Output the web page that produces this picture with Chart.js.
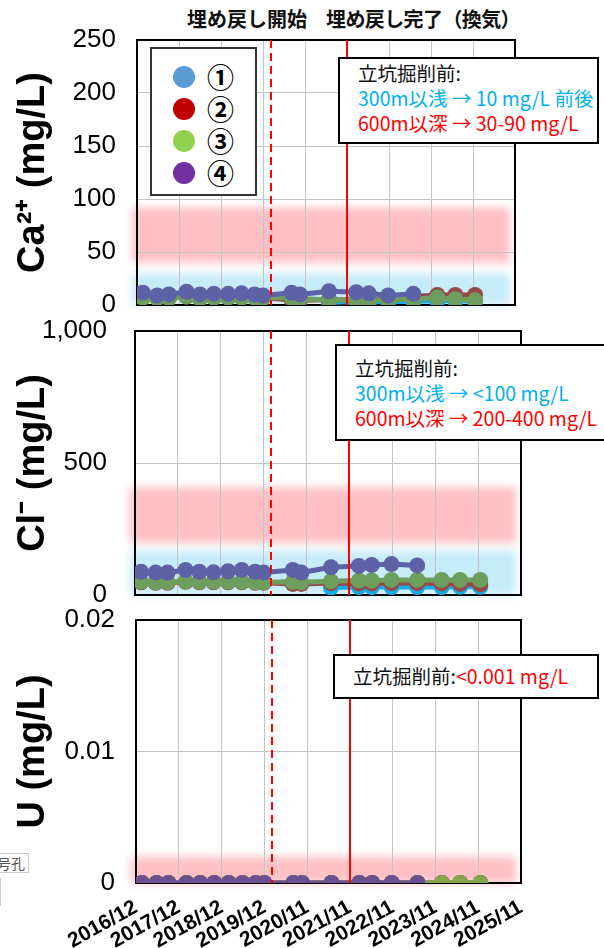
<!DOCTYPE html>
<html lang="ja">
<head>
<meta charset="UTF-8">
<title>埋め戻し前後の水質変化</title>
<style>
  html, body { margin: 0; padding: 0; background: #fff; }
  body { width: 604px; height: 948px; position: relative; overflow: hidden; font-family: 'Liberation Sans', Arial, sans-serif; }
  canvas { position: absolute; left: 0; }
  .event { position: absolute; top: 8px; font: bold 20px/22px 'Noto Sans CJK JP', sans-serif; color: #111; white-space: nowrap; }
  .legend { position: absolute; left: 150px; top: 47px; width: 103px; height: 145px; border: 2px solid #333; background: #fff; }
  .legend div { position: absolute; left: 0; height: 32px; width: 100%; }
  .legend span.dot { position: absolute; left: 21px; top: 5px; width: 22px; height: 22px; border-radius: 50%; }
  .legend span.name { position: absolute; left: 55px; top: 0; font: bold 27px/32px 'Noto Sans CJK JP', sans-serif; color: #000; }
  .note { position: absolute; border: 2px solid #000; background: #fff; font: 19.5px/25px 'Noto Sans CJK JP', sans-serif; color: #111; white-space: nowrap; box-sizing: border-box; }
  .cyan { color: #00b0f0; }
  .red { color: #ff0000; }
  .frag { position: absolute; font: 14px/18px 'Noto Sans CJK JP', sans-serif; color: #555; border: 1px solid #ccc; background: #fff; text-align: right; box-sizing: border-box; }
</style>
</head>
<body>
  <div class="event" style="left:187px">埋め戻し開始</div>
  <div class="event" style="left:326px; letter-spacing:-0.6px">埋め戻し完了（換気）</div>

  <!-- canvases overlap a little so the end tick labels are not squeezed -->
  <canvas id="caChart" width="604" height="330" style="top:0"></canvas>
  <canvas id="clChart" width="604" height="320" style="top:300px"></canvas>
  <canvas id="uChart" width="604" height="358" style="top:590px"></canvas>

  <div class="legend" id="legend"></div>

  <div class="note" style="left:338px; top:57px; width:261px; height:87px; padding:1px 0 0 18px">
    立坑掘削前:<br>
    <span class="cyan">300m以浅 → 10 mg/L 前後</span><br>
    <span class="red">600m以深 → 30-90 mg/L</span>
  </div>
  <div class="note" style="left:335px; top:344px; width:272px; height:97px; padding:9px 0 0 18px">
    立坑掘削前:<br>
    <span class="cyan">300m以浅 → &lt;100 mg/L</span><br>
    <span class="red">600m以深 → 200-400 mg/L</span>
  </div>
  <div class="note" style="left:333px; top:654px; width:266px; height:45px; padding:7px 0 0 18px">
    立坑掘削前:<span class="red">&lt;0.001 mg/L</span>
  </div>

  <div class="frag" style="left:-30px; top:853px; width:59px; height:20px; padding-right:3px">号孔</div>
  <div class="frag" style="left:-30px; top:878px; width:31px; height:28px"></div>

  <script src="https://cdn.jsdelivr.net/npm/chart.js@4.4.1/dist/chart.umd.min.js"></script>
  <script>
    // x axis: years counted from the 2016/12 tick
    var tickLabels = ['2016/12', '2017/12', '2018/12', '2019/12', '2020/11', '2021/11', '2022/11', '2023/11', '2024/11', '2025/11'];
    var sampleX = [0.14, 0.48, 0.76, 1.18, 1.5, 1.83, 2.17, 2.49, 2.8, 3.0, 3.68, 3.88, 4.57, 5.22, 5.52, 5.98, 6.58, 7.15, 7.58, 8.05];
    var backfillStart = 3.18;
    var backfillEnd = 5.0;

    var wellNames = ['①', '②', '③', '④'];
    var legendColors = ['#5b9bd5', '#c00000', '#92d050', '#7030a0'];

    // Ca2+ (mg/L)
    var ca1 = [null, null, null, null, null, null, null, null, null, null, null, null, 2.5, 3, 3, 3, 3.5, 4, 4, 3.5];
    var ca2 = [7, 6.5, 6.5, 8, 6, 7, 7, 7, 7, 6.5, 5, 4.5, 5, 5, 5, 6, 8, 9.5, 9.5, 9.5];
    var ca3 = [7, 6.5, 6.5, 8, 6, 7, 7, 7, 7, 6.5, 7, 6, 5, 4.5, 4.5, 5, 5.5, 7, 5.5, 4.5];
    var ca4 = [11.6, 9, 10, 12.5, 10, 10.5, 10.5, 11, 10, 9, 11.6, 10, 13, 12, 11, 9, 10.5, null, null, null];

    // Cl- (mg/L)
    var cl1 = [null, null, null, null, null, null, null, null, null, null, null, null, 28, 30, 30, 30, 30, 30, 31, 31];
    var cl2 = [48, 46, 46, 50, 48, 48, 48, 48, 46, 46, 42, 42, 45, 44, 44, 45, 45, 44, 42, 40];
    var cl3 = [50, 48, 48, 52, 50, 50, 50, 50, 48, 48, 50, 48, 52, 55, 55, 57, 57, 57, 57, 57];
    var cl4 = [88, 85, 85, 95, 88, 86, 90, 95, 88, 85, 95, 85, 105, 110, 114, 117, 112, null, null, null];

    // U (mg/L)
    var u1 = [null, null, null, null, null, null, null, null, null, null, null, null, 0, 0, 0, 0, 0, 0, 0, 0];
    var u2 = [0, 0, 0, 0, 0, 0, 0, 0, 0, 0, 0, 0, 0, 0, 0, 0, 0, 0, 0, 0];
    var u3 = [0, 0, 0, 0, 0, 0, 0, 0, 0, 0, 0, 0, 0, 0, 0, 0, 0, 0, 0, 0];
    var u4 = [0, 0, 0, 0, 0, 0, 0, 0, 0, 0, 0, 0, 0, 0, 0, 0, 0, null, null, null];

    // ranges before shaft excavation (shallow / deep), as drawn
    var caShallow = [0, 30], caDeep = [40, 92];
    var clShallow = [0, 170], clDeep = [197, 408];
    var uDeep = [0, 0.0020];

    var shallowColor = '#c6ebf9';
    var deepColor = '#ffc0c4';

    // legend
    var legendBox = document.getElementById('legend');
    wellNames.forEach(function(name, i) {
        var row = document.createElement('div');
        row.style.top = (12 + i * 32) + 'px';
        row.innerHTML = '<span class="dot" style="background:' + legendColors[i] + '"></span><span class="name">' + name + '</span>';
        legendBox.appendChild(row);
    });

    var decorPlugin = {
        id: 'decor',
        beforeDraw: function(chart, args, opts) {
            var ctx = chart.ctx, a = chart.chartArea, y = chart.scales.y;
            ctx.save();
            ctx.filter = 'blur(4px)';
            opts.bands.forEach(function(b) {
                var top = y.getPixelForValue(b.range[1]);
                var bot = y.getPixelForValue(b.range[0]);
                ctx.fillStyle = b.color;
                ctx.fillRect(a.left - 5, top, a.right - a.left, bot - top);
            });
            ctx.restore();
        },
        beforeDatasetsDraw: function(chart) {
            var ctx = chart.ctx, a = chart.chartArea;
            ctx.save();
            ctx.strokeStyle = '#000';
            ctx.lineWidth = 2;
            ctx.strokeRect(a.left, a.top, a.right - a.left, a.bottom - a.top);
            ctx.restore();
        },
        afterDatasetsDraw: function(chart) {
            var ctx = chart.ctx, a = chart.chartArea, x = chart.scales.x;
            ctx.save();
            ctx.strokeStyle = '#ff0000';
            ctx.lineWidth = 2;
            ctx.setLineDash([8, 5]);
            var xs = Math.round(x.getPixelForValue(backfillStart));
            ctx.beginPath(); ctx.moveTo(xs, a.top); ctx.lineTo(xs, a.bottom); ctx.stroke();
            ctx.setLineDash([]);
            var xe = Math.round(x.getPixelForValue(backfillEnd));
            ctx.beginPath(); ctx.moveTo(xe, a.top); ctx.lineTo(xe, a.bottom); ctx.stroke();
            ctx.restore();
        }
    };

    function points(values) {
        var out = [];
        values.forEach(function(v, i) {
            if (v !== null) out.push({ x: sampleX[i], y: v });
        });
        return out;
    }

    function makePanel(id, p) {
        var datasets = p.series.map(function(values, i) {
            var c = p.colors[i];
            return {
                label: wellNames[i],
                data: points(values),
                borderColor: c,
                backgroundColor: c,
                pointBackgroundColor: c,
                pointBorderWidth: 0,
                pointRadius: 8,
                borderWidth: 5,
                order: 4 - i
            };
        });

        return new Chart(document.getElementById(id), {
            type: 'line',
            data: { datasets: datasets },
            plugins: [decorPlugin],
            options: {
                responsive: false,
                animation: false,
                devicePixelRatio: 1,
                layout: { padding: { top: p.padTop, right: p.padRight, left: 0, bottom: 0 } },
                plugins: {
                    legend: { display: false },
                    tooltip: { enabled: false },
                    decor: { bands: p.bands }
                },
                scales: {
                    x: {
                        type: 'linear',
                        min: 0,
                        max: 9,
                        border: { display: false },
                        grid: { color: '#c4c4c4', lineWidth: 1, drawTicks: false },
                        ticks: {
                            display: p.showX,
                            stepSize: 1,
                            autoSkip: false,
                            minRotation: 29,
                            maxRotation: 29,
                            padding: 12,
                            color: '#000',
                            font: { family: "'Liberation Sans', Arial, sans-serif", size: 21, weight: 'bold' },
                            callback: function(v) { return tickLabels[v]; }
                        },
                        afterFit: function(s) { s.height = p.xHeight; }
                    },
                    y: {
                        min: 0,
                        max: p.max,
                        border: { display: false },
                        // transparent tick marks give the gap between labels and the axis
                        grid: { color: '#c4c4c4', lineWidth: 1, drawTicks: true, tickLength: p.tickGap, tickColor: 'rgba(0,0,0,0)' },
                        ticks: {
                            stepSize: p.step,
                            padding: 0,
                            color: '#000',
                            font: { family: "'Liberation Sans', Arial, sans-serif", size: 26 },
                            callback: p.format
                        },
                        title: {
                            display: true,
                            text: p.title,
                            color: '#000',
                            padding: { top: 15, bottom: 0 },
                            font: { family: "'Liberation Sans', Arial, sans-serif", size: 38, weight: 'bold', lineHeight: 1 }
                        },
                        afterFit: function(s) { s.width = p.left; }
                    }
                }
            }
        });
    }

    var brightColors = ['#19abe6', '#954848', '#6e9e5e', '#5d62a6'];
    var uColors = ['#19abe6', '#954848', '#86a64a', '#6b4f90'];

    makePanel('caChart', {
        series: [ca1, ca2, ca3, ca4], colors: brightColors,
        max: 250, step: 50, tickGap: 21,
        format: function(v) { return String(v); },
        title: 'Ca²⁺ (mg/L)',
        left: 137, padTop: 40, padRight: 89, xHeight: 25, showX: false,
        bands: [{ range: caShallow, color: shallowColor }, { range: caDeep, color: deepColor }]
    });

    makePanel('clChart', {
        series: [cl1, cl2, cl3, cl4], colors: brightColors,
        max: 1000, step: 500, tickGap: 28,
        format: function(v) { return v.toLocaleString('en-US'); },
        title: 'Cl⁻ (mg/L)',
        left: 135, padTop: 31, padRight: 83, xHeight: 25, showX: false,
        bands: [{ range: clShallow, color: shallowColor }, { range: clDeep, color: deepColor }]
    });

    makePanel('uChart', {
        series: [u1, u2, u3, u4], colors: uColors,
        max: 0.02, step: 0.01, tickGap: 21,
        format: function(v) { return String(Number(v.toFixed(2))); },
        title: 'U (mg/L)',
        left: 136, padTop: 30, padRight: 83, xHeight: 65, showX: true,
        bands: [{ range: uDeep, color: deepColor }]
    });
  </script>
</body>
</html>
